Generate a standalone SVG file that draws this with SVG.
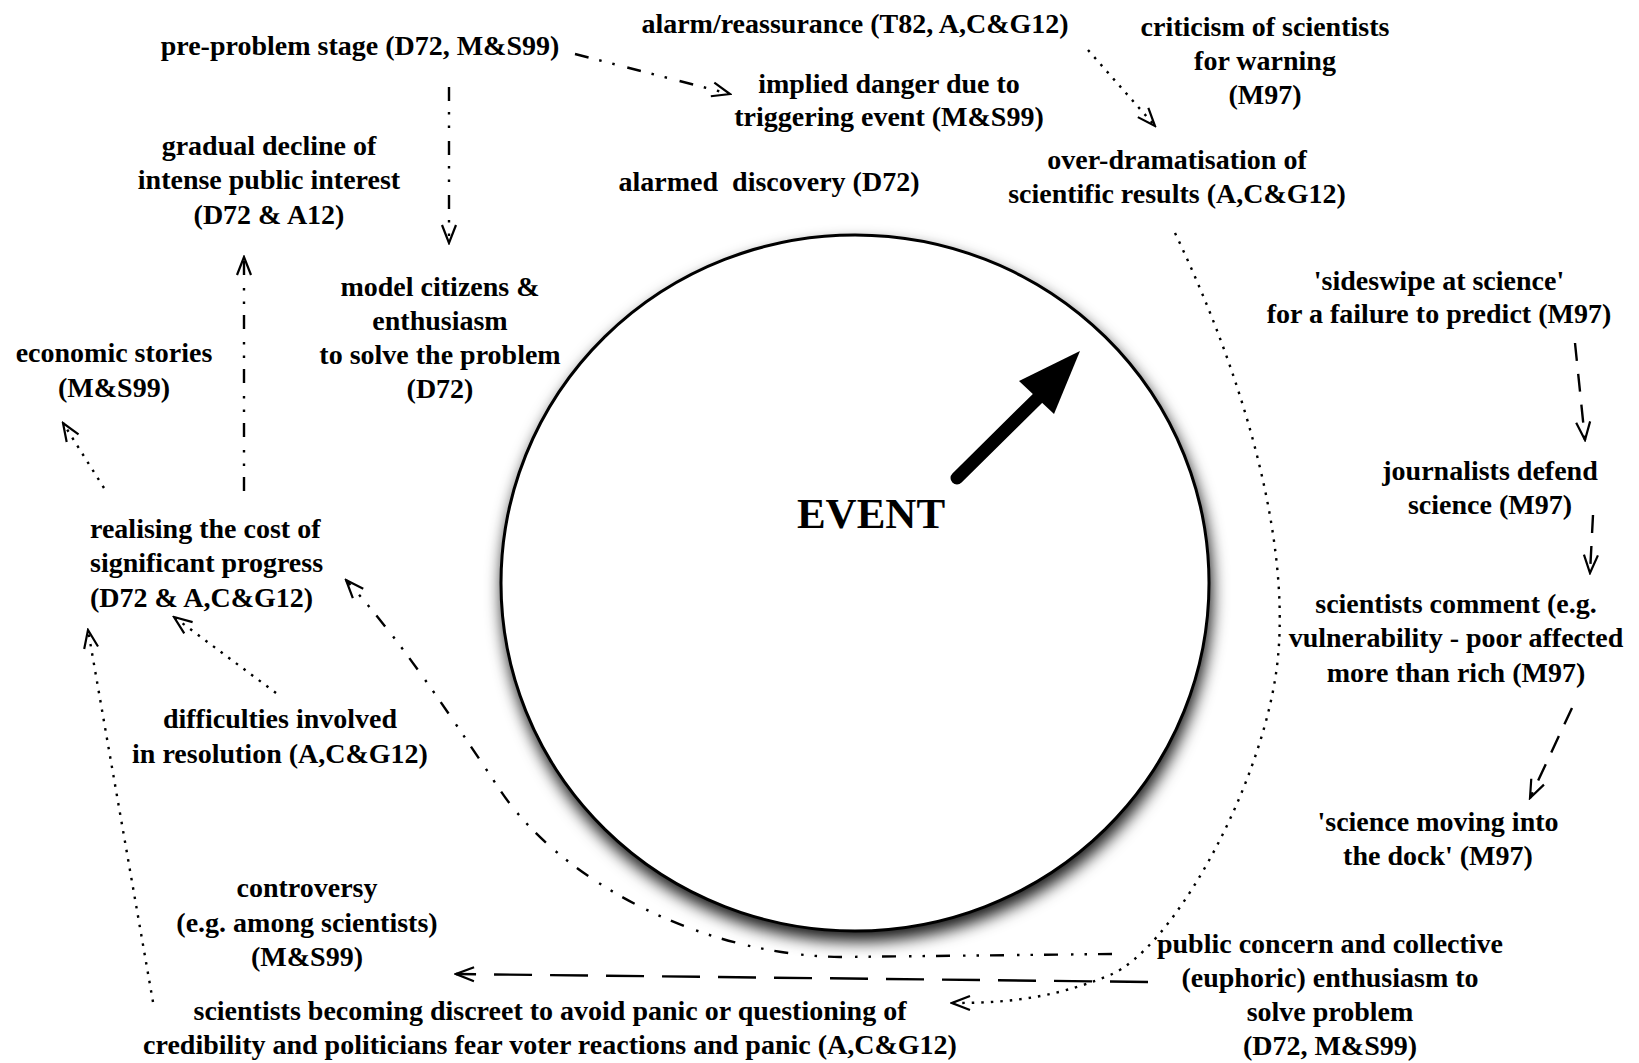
<svg xmlns="http://www.w3.org/2000/svg" width="1639" height="1063" viewBox="0 0 1639 1063">
  <style>
    .t { font-family: "Liberation Serif", "Times New Roman", serif; font-weight: bold; font-size: 28px; fill: #000; text-anchor: middle; }
    .l { text-anchor: start; }
    .big { font-size: 43px; }
    .c { fill: none; stroke: #000; stroke-width: 2.4; }
    .dot { stroke-dasharray: 2.5 7; }
    .dash { stroke-dasharray: 18 13; }
    .longdash { stroke-dasharray: 38 18; }
    .ddd { stroke-dasharray: 14 11 2.5 11 2.5 13; }
  </style>
  <defs>
    <marker id="ah" viewBox="0 0 22 18" markerWidth="22" markerHeight="18" refX="20" refY="9" orient="auto" markerUnits="userSpaceOnUse">
      <path d="M2,2 L20,9 L2,16" fill="none" stroke="#000" stroke-width="2.2" stroke-dasharray="none"/>
    </marker>
    <filter id="shadow" x="-10%" y="-10%" width="125%" height="128%">
      <feGaussianBlur in="SourceAlpha" stdDeviation="8"/>
      <feOffset dx="2" dy="9" result="blur"/>
      <feFlood flood-color="#000" flood-opacity="0.9"/>
      <feComposite in2="blur" operator="in"/>
      <feMerge>
        <feMergeNode/>
        <feMergeNode in="SourceGraphic"/>
      </feMerge>
    </filter>
  </defs>

  <rect width="1639" height="1063" fill="#fff"/>

  <!-- central event circle -->
  <g id="event">
    <ellipse cx="855" cy="583" rx="354" ry="348" fill="#fff" stroke="#000" stroke-width="3" filter="url(#shadow)"/>
    <line x1="957" y1="478" x2="1040" y2="396" stroke="#000" stroke-width="13" stroke-linecap="round"/>
    <polygon points="1080,351 1019,381 1054,414" fill="#000"/>
    <text class="t big" x="871" y="528">EVENT</text>
  </g>

  <!-- connectors -->
  <g id="connectors">
    <line class="c ddd" x1="575" y1="54" x2="730" y2="94" marker-end="url(#ah)"/>
    <line class="c ddd" x1="449" y1="87" x2="449" y2="243" marker-end="url(#ah)"/>
    <line class="c dot" x1="1088" y1="50" x2="1155" y2="126" marker-end="url(#ah)"/>
    <line class="c dash" x1="1575" y1="343" x2="1585" y2="440" marker-end="url(#ah)"/>
    <line class="c dash" x1="1593" y1="515" x2="1590" y2="573" marker-end="url(#ah)"/>
    <line class="c dash" x1="1572" y1="708" x2="1530" y2="798" marker-end="url(#ah)"/>
    <path class="c dot" d="M1175,233 C1250,390 1295,560 1275,680 C1255,800 1170,950 1110,975 C1050,1000 1000,1003 952,1003" marker-end="url(#ah)"/>
    <line class="c longdash" x1="1148" y1="982" x2="456" y2="974" marker-end="url(#ah)"/>
    <path class="c ddd" d="M1112,954 L840,957 C700,955 560,880 500,790 C440,700 400,640 346,580" marker-end="url(#ah)"/>
    <line class="c dot" x1="153" y1="1002" x2="88" y2="630" marker-end="url(#ah)"/>
    <line class="c dot" x1="276" y1="693" x2="174" y2="617" marker-end="url(#ah)"/>
    <line class="c dot" x1="104" y1="488" x2="63" y2="423" marker-end="url(#ah)"/>
    <line class="c ddd" x1="244" y1="491" x2="244" y2="257" marker-end="url(#ah)"/>
  </g>

  <!-- stage labels -->
  <g id="pre-problem">
    <text class="t" x="360" y="55">pre-problem stage (D72, M&amp;S99)</text>
  </g>
  <g id="alarm-reassurance">
    <text class="t" x="855" y="33">alarm/reassurance (T82, A,C&amp;G12)</text>
  </g>
  <g id="implied-danger">
    <text class="t" x="889" y="93">implied danger due to</text>
    <text class="t" x="889" y="126">triggering event (M&amp;S99)</text>
  </g>
  <g id="alarmed-discovery">
    <text class="t" x="769" y="191" xml:space="preserve">alarmed  discovery (D72)</text>
  </g>
  <g id="criticism">
    <text class="t" x="1265" y="36">criticism of scientists</text>
    <text class="t" x="1265" y="70">for warning</text>
    <text class="t" x="1265" y="104">(M97)</text>
  </g>
  <g id="over-dramatisation">
    <text class="t" x="1177" y="169">over-dramatisation of</text>
    <text class="t" x="1177" y="203">scientific results (A,C&amp;G12)</text>
  </g>
  <g id="sideswipe">
    <text class="t" x="1439" y="290">'sideswipe at science'</text>
    <text class="t" x="1439" y="323">for a failure to predict (M97)</text>
  </g>
  <g id="journalists-defend">
    <text class="t" x="1490" y="480">journalists defend</text>
    <text class="t" x="1490" y="514">science (M97)</text>
  </g>
  <g id="scientists-comment">
    <text class="t" x="1456" y="613">scientists comment (e.g.</text>
    <text class="t" x="1456" y="647">vulnerability - poor affected</text>
    <text class="t" x="1456" y="682">more than rich (M97)</text>
  </g>
  <g id="science-dock">
    <text class="t" x="1438" y="831">'science moving into</text>
    <text class="t" x="1438" y="865">the dock' (M97)</text>
  </g>
  <g id="public-concern">
    <text class="t" x="1330" y="953">public concern and collective</text>
    <text class="t" x="1330" y="987">(euphoric) enthusiasm to</text>
    <text class="t" x="1330" y="1021">solve problem</text>
    <text class="t" x="1330" y="1055">(D72, M&amp;S99)</text>
  </g>
  <g id="scientists-discreet">
    <text class="t" x="550" y="1020">scientists becoming discreet to avoid panic or questioning of</text>
    <text class="t" x="550" y="1054">credibility and politicians fear voter reactions and panic (A,C&amp;G12)</text>
  </g>
  <g id="controversy">
    <text class="t" x="307" y="897">controversy</text>
    <text class="t" x="307" y="932">(e.g. among scientists)</text>
    <text class="t" x="307" y="966">(M&amp;S99)</text>
  </g>
  <g id="difficulties">
    <text class="t" x="280" y="728">difficulties involved</text>
    <text class="t" x="280" y="763">in resolution (A,C&amp;G12)</text>
  </g>
  <g id="realising-cost">
    <text class="t l" x="90" y="538">realising the cost of</text>
    <text class="t l" x="90" y="572">significant progress</text>
    <text class="t l" x="90" y="607">(D72 &amp; A,C&amp;G12)</text>
  </g>
  <g id="economic-stories">
    <text class="t" x="114" y="362">economic stories</text>
    <text class="t" x="114" y="397">(M&amp;S99)</text>
  </g>
  <g id="gradual-decline">
    <text class="t" x="269" y="155">gradual decline of</text>
    <text class="t" x="269" y="189">intense public interest</text>
    <text class="t" x="269" y="224">(D72 &amp; A12)</text>
  </g>
  <g id="model-citizens">
    <text class="t" x="440" y="296">model citizens &amp;</text>
    <text class="t" x="440" y="330">enthusiasm</text>
    <text class="t" x="440" y="364">to solve the problem</text>
    <text class="t" x="440" y="398">(D72)</text>
  </g>
</svg>
